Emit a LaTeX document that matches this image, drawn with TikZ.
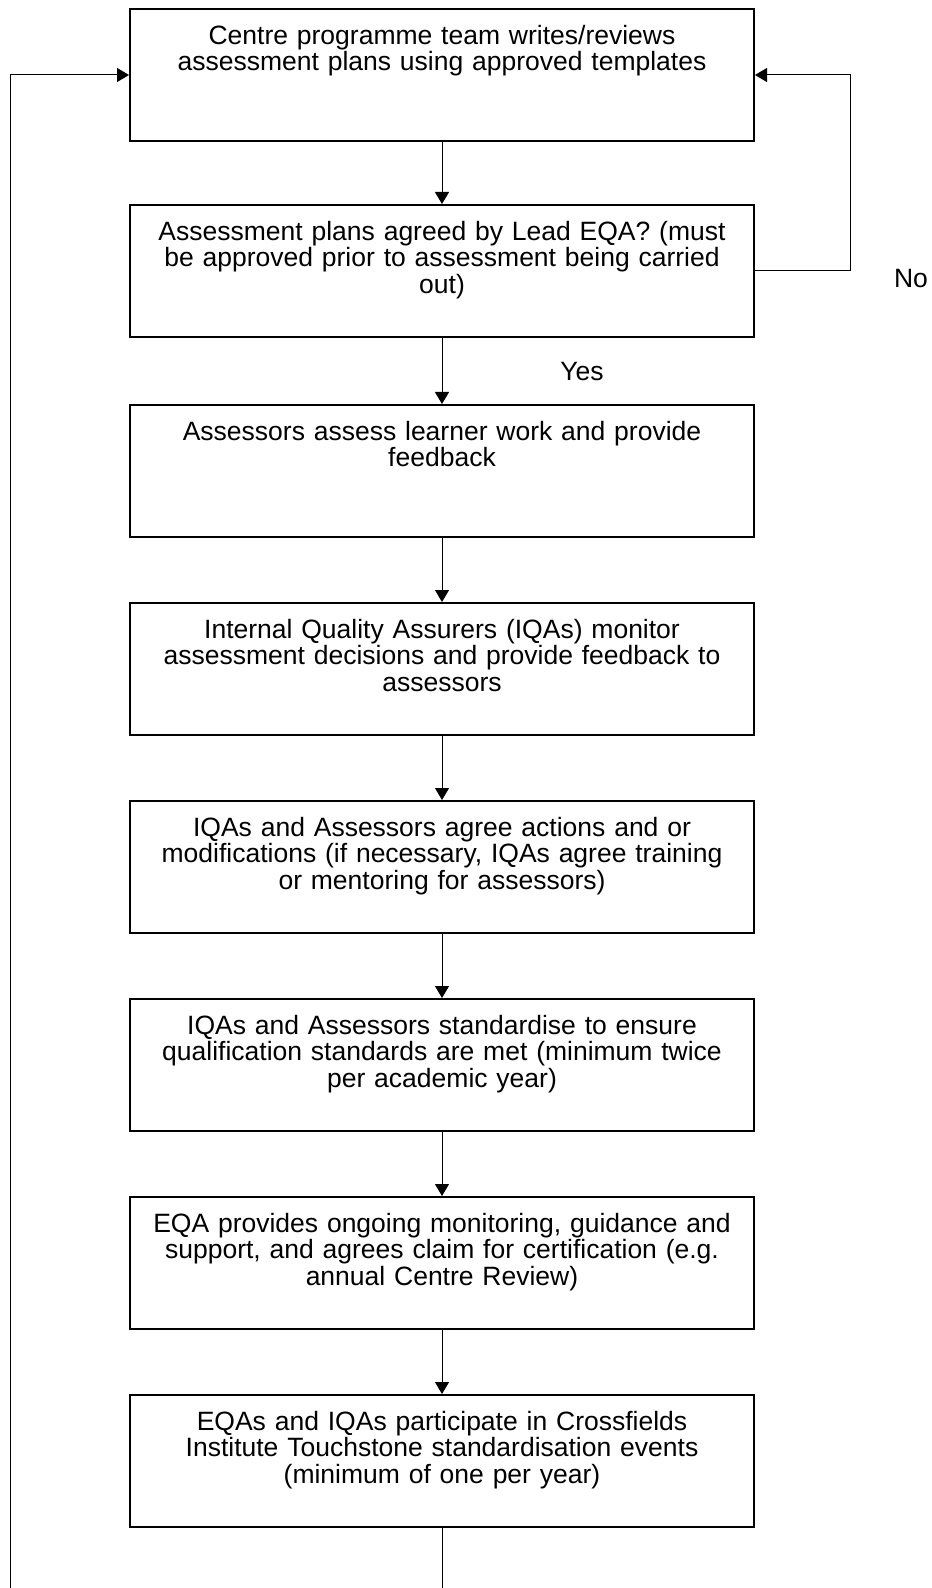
\documentclass[tikz,border=0pt]{standalone}
\usepackage{fontspec}
\setmainfont{Liberation Sans}
\usetikzlibrary{arrows.meta}
\tikzset{
    stage/.style={draw, line width=1pt, minimum width=312pt, minimum height=66pt, inner sep=0pt},
    stagetext/.style={anchor=north, text width=310pt, align=center, inner sep=0pt, yshift=-8.3pt,
      font=\fontsize{13.25}{13.3}\selectfont},
    flow/.style={line width=0.5pt, -{Triangle[length=6pt,width=7pt]}},
    answer/.style={inner sep=0pt, font=\fontsize{13.25}{13.3}\selectfont},
  }

\begin{document}
\begin{tikzpicture}[x=0.5pt,y=-0.5pt]
  %page frame in pixels, y going down
  \useasboundingbox (0,0) rectangle (931,1588);
  \coordinate(L) at (10,1588);
  \coordinate(R) at (850,0);
  \coordinate(E) at (442,1588);

  \node[stage] (b1) at (442,75) {};
  \node[stagetext] (t1) at (b1.north) {Centre programme team writes/reviews\\assessment plans using approved templates};
  \node[stage] (b2) at (442,271) {};
  \node[stagetext] (t2) at (b2.north) {Assessment plans agreed by Lead EQA? (must\\be approved prior to assessment being carried\\out)};
  \node[stage] (b3) at (442,471) {};
  \node[stagetext] (t3) at (b3.north) {Assessors assess learner work and provide\\feedback};
  \node[stage] (b4) at (442,669) {};
  \node[stagetext] (t4) at (b4.north) {Internal Quality Assurers (IQAs) monitor\\assessment decisions and provide feedback to\\assessors};
  \node[stage] (b5) at (442,867) {};
  \node[stagetext] (t5) at (b5.north) {IQAs and Assessors agree actions and or\\modifications (if necessary, IQAs agree training\\or mentoring for assessors)};
  \node[stage] (b6) at (442,1065) {};
  \node[stagetext] (t6) at (b6.north) {IQAs and Assessors standardise to ensure\\qualification standards are met (minimum twice\\per academic year)};
  \node[stage] (b7) at (442,1263) {};
  \node[stagetext] (t7) at (b7.north) {EQA provides ongoing monitoring, guidance and\\support, and agrees claim for certification (e.g.\\annual Centre Review)};
  \node[stage] (b8) at (442,1461) {};
  \node[stagetext] (t8) at (b8.north) {EQAs and IQAs participate in Crossfields\\Institute Touchstone standardisation events\\(minimum of one per year)};

  \node[answer] (yes) at (582,372) {Yes};
  \node[answer] (no) at (911,279) {No};

  \draw[flow] (b1) -- (b2);
  \draw[flow] (b2) -- (b3);
  \draw[flow] (b3) -- (b4);
  \draw[flow] (b4) -- (b5);
  \draw[flow] (b5) -- (b6);
  \draw[flow] (b6) -- (b7);
  \draw[flow] (b7) -- (b8);
  \draw[line width=0.5pt] (b8) -- (E);
  %loop back when not agreed
  \draw[flow] (b2.east) -- (b2.east -| R) -- (R |- b1.east) -- (b1.east);
  \draw[flow] (L) -- (L |- b1.west) -- (b1.west);
\end{tikzpicture}
\end{document}
